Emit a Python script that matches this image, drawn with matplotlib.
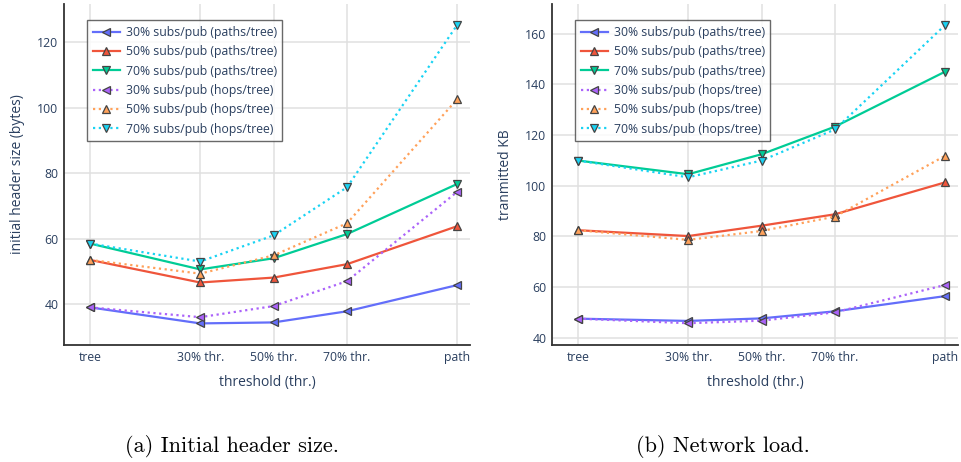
import matplotlib
matplotlib.use("Agg")
import matplotlib.pyplot as plt

plt.rcParams['font.family'] = ['Open Sans', 'DejaVu Sans']

# x categories and their numeric positions on the threshold axis
categories = ["tree", "30% thr.", "50% thr.", "70% thr.", "path"]
positions = [0, 30, 50, 70, 100]

series_labels = [
    "30% subs/pub (paths/tree)",
    "50% subs/pub (paths/tree)",
    "70% subs/pub (paths/tree)",
    "30% subs/pub (hops/tree)",
    "50% subs/pub (hops/tree)",
    "70% subs/pub (hops/tree)",
]

# initial header size (bytes)
header_paths_30 = [39.0, 34.1, 34.4, 37.8, 45.8]
header_paths_50 = [53.5, 46.6, 48.1, 52.2, 63.8]
header_paths_70 = [58.5, 50.6, 54.0, 61.4, 76.7]
header_hops_30 = [39.0, 36.0, 39.4, 47.0, 74.3]
header_hops_50 = [53.5, 49.3, 54.9, 64.7, 102.6]
header_hops_70 = [58.5, 53.0, 61.0, 75.7, 125.3]

# transmitted KB
load_paths_30 = [47.5, 46.6, 47.6, 50.4, 56.4]
load_paths_50 = [82.4, 80.1, 84.2, 88.7, 101.3]
load_paths_70 = [109.9, 104.5, 112.4, 123.3, 145.0]
load_hops_30 = [47.5, 45.7, 46.7, 50.0, 60.8]
load_hops_50 = [82.4, 78.6, 82.1, 87.8, 111.8]
load_hops_70 = [109.9, 103.3, 109.9, 122.2, 163.4]

colors = ["#636EFA", "#EF553B", "#00CC96", "#AB63FA", "#FFA15A", "#19D3F3"]
markers = ["<", "^", "v", "<", "^", "v"]
styles = ["-", "-", "-", ":", ":", ":"]
text_color = "#2a3f5f"

fig = plt.figure(figsize=(9.61, 4.62), dpi=100)
W, H = 961, 462


def px_axes(x0, y0, x1, y1):
    return fig.add_axes([x0 / W, 1 - y1 / H, (x1 - x0) / W, (y1 - y0) / H])


def draw_panel(ax, data, ylim, yticks, ylabel):
    for vals, lab, c, m, ls in zip(data, series_labels, colors, markers, styles):
        ax.plot(positions, vals, color=c, linestyle=ls, linewidth=1.6,
                marker=m, markersize=6, markerfacecolor=c,
                markeredgecolor="#444444", markeredgewidth=0.9,
                label=lab, zorder=3,
                dashes=(1.0, 1.6) if ls == ":" else (None, None),
                dash_capstyle="butt")
    ax.set_xlim(-7.1, 103.5)
    ax.set_ylim(*ylim)
    ax.set_xticks(positions)
    ax.set_xticklabels(categories)
    ax.set_yticks(yticks)
    ax.grid(True, color="#e0e0e0", linewidth=1.1, zorder=0)
    ax.set_axisbelow(True)
    for s in ["top", "right"]:
        ax.spines[s].set_visible(False)
    for s in ["left", "bottom"]:
        ax.spines[s].set_color("#333333")
        ax.spines[s].set_linewidth(1.3)
    ax.tick_params(length=0, labelsize=8.8, colors=text_color, pad=4)
    ax.set_xlabel("threshold (thr.)", fontsize=10, color=text_color, labelpad=8)
    ax.set_ylabel(ylabel, fontsize=10, color=text_color, labelpad=9)
    leg = ax.legend(loc="upper left", bbox_to_anchor=(0.057, 0.952),
                    fontsize=8.8, frameon=True, fancybox=False,
                    handlelength=2.2, borderpad=0.45, labelspacing=0.52,
                    handletextpad=0.5, borderaxespad=0)
    leg.get_frame().set_edgecolor("#444444")
    leg.get_frame().set_linewidth(1.0)
    for t in leg.get_texts():
        t.set_color(text_color)


ax1 = px_axes(64, 4, 470, 345)
draw_panel(ax1,
           [header_paths_30, header_paths_50, header_paths_70,
            header_hops_30, header_hops_50, header_hops_70],
           (27.5, 131.7), [40, 60, 80, 100, 120], "initial header size (bytes)")

ax2 = px_axes(552, 4, 958, 345)
draw_panel(ax2,
           [load_paths_30, load_paths_50, load_paths_70,
            load_hops_30, load_hops_50, load_hops_70],
           (37.1, 171.7), [40, 60, 80, 100, 120, 140, 160], "tranmitted KB")

fig.text(232 / W, 1 - 446 / H, "(a) Initial header size.", family="cmr10",
         fontsize=16, ha="center", va="center", color="black")
fig.text(723 / W, 1 - 446 / H, "(b) Network load.", family="cmr10",
         fontsize=16, ha="center", va="center", color="black")

fig.savefig("out.png", dpi=100)
